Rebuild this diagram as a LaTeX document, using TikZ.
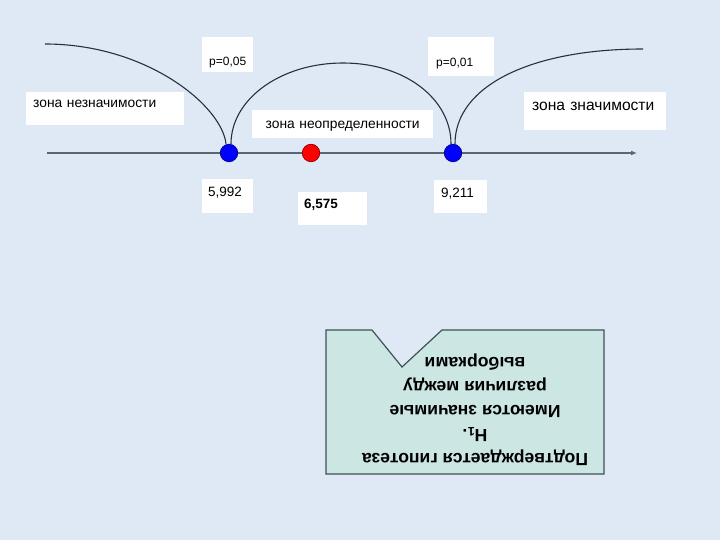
\documentclass[tikz,border=0pt]{standalone}
\usepackage{fontspec}
\setmainfont{Liberation Sans}
\usetikzlibrary{arrows.meta}
\definecolor{bg}{RGB}{222,233,245}
\definecolor{axiscol}{RGB}{92,102,114}
\definecolor{arccol}{RGB}{40,48,60}
\definecolor{boxfill}{RGB}{204,230,227}
\definecolor{boxline}{RGB}{62,82,84}
\tikzset{
  lbl/.style={fill=white, inner ysep=0pt, anchor=north west, align=left},
  smallf/.style={font=\fontsize{12}{14}\selectfont},
  zonef/.style={font=\fontsize{13.8}{16}\selectfont},
  numf/.style={font=\fontsize{13.5}{15}\selectfont},
  bdot/.style={circle, minimum size=17.5pt, inner sep=0pt, fill=blue, draw=blue!55!black, line width=0.7pt},
  rdot/.style={circle, minimum size=17.5pt, inner sep=0pt, fill=red, draw=red!55!black, line width=0.7pt},
  arcl/.style={draw=arccol, line width=1.1pt},
}
\begin{document}
\begin{tikzpicture}[x=1pt,y=-1pt]
\fill[bg] (0,0) rectangle (720,540);
\useasboundingbox (0,0) rectangle (720,540);
% axis
\coordinate (A0) at (47,153);
\coordinate (A1) at (637,153);
\draw[axiscol, line width=2pt, -{Latex[length=6pt,width=5pt]}] (A0) -- (A1);
% dots
\node[bdot] (d1) at (229,153) {};
\node[rdot] (d2) at (311,153) {};
\node[bdot] (d3) at (453,153) {};
% arcs
\coordinate (L0) at (45,44);
\coordinate (M) at (343,63);
\coordinate (R1) at (643,49);
\draw[arcl] (L0) .. controls (147,44) and (222,106) .. ([xshift=-3pt]d1.north);
\draw[arcl] ([xshift=2pt]d1.north) .. controls +(0,-45) and +(-62,0) .. (M)
            .. controls +(62,0) and +(0,-45) .. ([xshift=-2pt]d3.north);
\draw[arcl] ([xshift=2pt]d3.north) .. controls +(0,-58) and +(-112,0) .. (R1);
% labels
\node[lbl, smallf, align=center, inner xsep=7pt, text width=37pt, text height=28pt, text depth=7pt] (p05) at (202,37) {p=0,05};
\node[lbl, smallf, inner xsep=8pt, text width=50pt, text height=29pt, text depth=10pt] (p01) at (428,37) {p=0,01};
\node[lbl, zonef, inner xsep=7pt, text width=144pt, text height=15pt, text depth=18pt] (zn) at (26,92) {зона незначимости};
\node[lbl, zonef, align=center, inner xsep=4pt, text width=173pt, text height=18pt, text depth=10pt] (zu) at (252,110) {зона неопределенности};
\node[lbl, font=\fontsize{15.6}{18}\selectfont, inner xsep=8pt, text width=126pt, text height=18pt, text depth=20pt] (zs) at (524,92) {зона значимости};
\node[lbl, numf, inner xsep=6pt, text width=39pt, text height=17pt, text depth=17pt] (v1) at (202,179) {5,992};
\node[lbl, font=\bfseries\fontsize{13.5}{15}\selectfont, inner xsep=6pt, text width=57pt, text height=16pt, text depth=17pt] (v2) at (298,192) {6,575};
\node[lbl, numf, inner xsep=7pt, text width=39pt, text height=17pt, text depth=16pt] (v3) at (434,180) {9,211};
% callout (rotated)
\draw[fill=boxfill, draw=boxline, line width=1.2pt, line join=miter]
  (326,330) -- (372,330) -- (402,367) -- (442,330) -- (604,330) -- (604,474) -- (326,474) -- cycle;
\node[rotate=180, align=center, inner sep=0pt, font=\bfseries\fontsize{17.6}{24}\selectfont] (hyp) at (475,410)
  {Подтверждается гипотеза\\Н\textsubscript{1}.\\Имеются значимые\\различия между\\выборками};
\end{tikzpicture}
\end{document}
